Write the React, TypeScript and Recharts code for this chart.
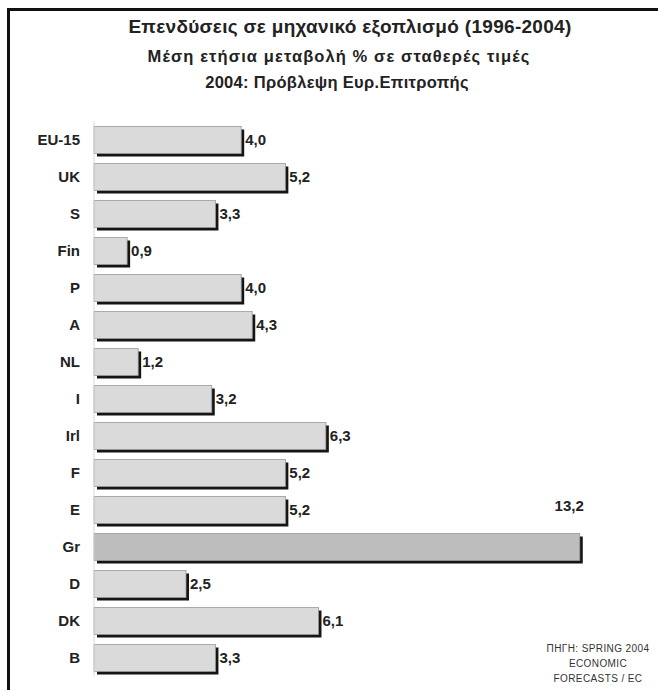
import * as React from "react";
import { BarChart, Bar, XAxis, YAxis, Cell, LabelList } from "recharts";

const countries = ["EU-15", "UK", "S", "Fin", "P", "A", "NL", "I", "Irl", "F", "E", "Gr", "D", "DK", "B"];
const growth = [4.0, 5.2, 3.3, 0.9, 4.0, 4.3, 1.2, 3.2, 6.3, 5.2, 5.2, 13.2, 2.5, 6.1, 3.3];
const highlighted = "Gr";

const titleLines = [
  "Επενδύσεις σε μηχανικό εξοπλισμό (1996-2004)",
  "Μέση ετήσια μεταβολή % σε σταθερές τιμές",
  "2004: Πρόβλεψη Ευρ.Επιτροπής",
];
const sourceLines = ["ΠΗΓΗ: SPRING 2004", "ECONOMIC", "FORECASTS / EC"];

const data = countries.map((c, i) => ({ name: c, value: growth[i] }));

const font = "'Liberation Sans', Arial, sans-serif";

function ShadowBar(props) {
  const { x, y, width, height, fill } = props;
  if (width <= 0) return null;
  return (
    <g>
      <rect x={x + 3} y={y + 3} width={width} height={height} fill="#151515" />
      <rect x={x} y={y} width={width} height={height} fill={fill} stroke="#9a9a9a" strokeWidth={0.8} />
    </g>
  );
}

function ValueLabel(props) {
  const { x, y, width, height, value, index } = props;
  const txt = Number(value).toFixed(1).replace(".", ",");
  if (countries[index] === highlighted) {
    return (
      <text x={x + width + 4} y={y - 23} textAnchor="end" fontSize={15} fontWeight="bold" fill="#222" fontFamily={font}>
        {txt}
      </text>
    );
  }
  return (
    <text x={x + width + 4} y={y + height / 2 + 1} dominantBaseline="middle" fontSize={15} fontWeight="bold" fill="#222" fontFamily={font}>
      {txt}
    </text>
  );
}

export default function App() {
  return (
    <div style={{ position: "absolute", left: 0, top: 0, width: 658, height: 690, overflow: "hidden", background: "#fff", fontFamily: font }}>
      <div style={{ position: "absolute", left: 7, top: 8, width: 700, height: 800, borderLeft: "3px solid #111", borderTop: "3px solid #111" }} />
      <div style={{ position: "absolute", left: 0, top: 16, width: 700, textAlign: "center", fontSize: 19, letterSpacing: 0.3, fontWeight: "bold", color: "#222" }}>
        {titleLines[0]}
      </div>
      <div style={{ position: "absolute", left: 0, top: 47, width: 678, textAlign: "center", fontSize: 16.5, letterSpacing: 1.1, fontWeight: "bold", color: "#222" }}>
        {titleLines[1]}
      </div>
      <div style={{ position: "absolute", left: 0, top: 73, width: 674, textAlign: "center", fontSize: 16.5, letterSpacing: 0.3, fontWeight: "bold", color: "#222" }}>
        {titleLines[2]}
      </div>
      <div style={{ position: "absolute", left: 0, top: 0 }}>
        <BarChart
          width={658}
          height={690}
          data={data}
          layout="vertical"
          margin={{ top: 121.5, right: 12, bottom: 13.5, left: 0 }}
          barCategoryGap={5}
        >
          <XAxis type="number" domain={[0, 15]} hide />
          <YAxis
            type="category"
            dataKey="name"
            width={94}
            tickSize={0}
            tickMargin={14}
            axisLine={{ stroke: "#d8d8d8" }}
            tick={{ fontSize: 15, fontWeight: "bold", fill: "#222", fontFamily: font }}
          />
          <Bar dataKey="value" isAnimationActive={false} shape={<ShadowBar />}>
            {data.map((d) => (
              <Cell key={d.name} fill={d.name === highlighted ? "#bdbdbd" : "#dadada"} />
            ))}
            <LabelList dataKey="value" content={<ValueLabel />} />
          </Bar>
        </BarChart>
      </div>
      <div style={{ position: "absolute", left: 538, top: 641, width: 120, textAlign: "center", fontSize: 10, letterSpacing: 0.4, lineHeight: "15px", color: "#333" }}>
        {sourceLines.map((s) => (
          <div key={s}>{s}</div>
        ))}
      </div>
    </div>
  );
}
